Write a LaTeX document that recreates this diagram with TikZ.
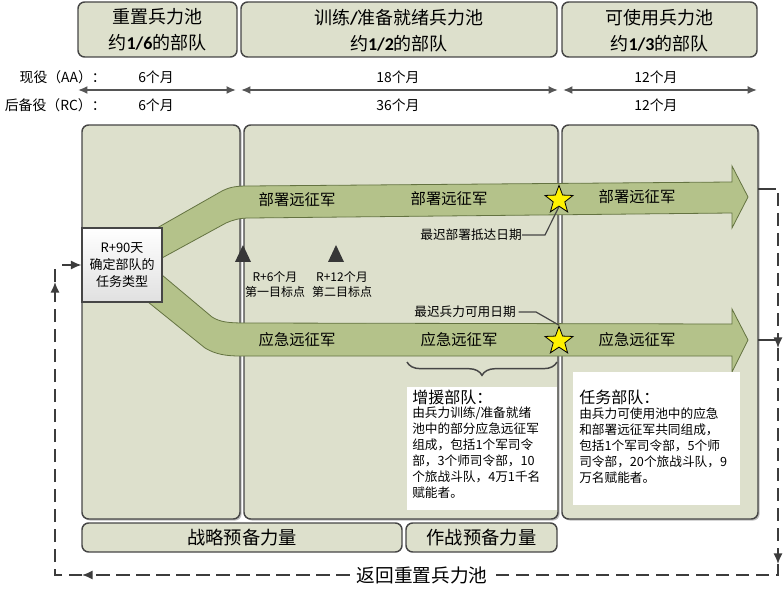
\documentclass[tikz,border=0pt]{standalone}
\usepackage{fontspec}
\setmainfont{Noto Sans CJK SC}
\newfontfamily\carl{Carlito}
\usetikzlibrary{shapes.geometric,arrows.meta,decorations.pathreplacing,fit,shadows}
\definecolor{panelc}{RGB}{221,224,204}
\definecolor{bordc}{RGB}{70,70,70}
\definecolor{bandc}{RGB}{180,194,138}
\definecolor{bandedge}{RGB}{100,115,65}
\definecolor{arrowc}{RGB}{85,85,85}
\definecolor{retc}{RGB}{60,60,60}
\definecolor{markc}{RGB}{55,55,55}
\begin{document}
\begin{tikzpicture}[x=0.75pt,y=-0.75pt,
  box/.style={draw=bordc, fill=panelc, line width=1.1pt, rounded corners=5pt, inner sep=0pt},
  panel/.style={box, drop shadow={shadow xshift=1.2pt, shadow yshift=-1.2pt, fill=black, opacity=0.25}},
  hdrtxt/.style={align=center, inner sep=0pt, font=\fontsize{13.5}{19.5}\selectfont},
  boxtxt/.style={inner sep=0pt, font=\fontsize{13.7}{16}\selectfont},
  rowtxt/.style={font=\fontsize{10.4}{12}\selectfont, inner sep=0pt},
  span/.style={draw=arrowc, line width=1.3pt, {Latex[length=7pt,width=6pt]}-{Latex[length=7pt,width=6pt]}},
  band/.style={fill=bandc, draw=bandedge, line width=0.6pt},
  bandtxt/.style={font=\fontsize{11.5}{13}\selectfont},
  small/.style={font=\fontsize{9}{11.25}\selectfont, align=center, inner sep=0pt},
  note/.style={font=\fontsize{9.5}{12}\selectfont, inner sep=0pt},
  head/.style={font=\fontsize{12}{14}\selectfont, inner sep=0pt},
  ret/.style={draw=retc, line width=1.4pt, dash pattern=on 10pt off 5pt},
  stub/.style={draw=retc, line width=1.2pt},
  tip/.style={-{Latex[length=8pt,width=7pt]}},
  starmark/.style={star, star points=5, star point ratio=2.4, fill=yellow, draw=black, line width=0.6pt, minimum size=22pt, inner sep=0pt}
]
\useasboundingbox (0,0) rectangle (784,598);

% header boxes
\node[box, fit={(78,2) (237,57)}] (h1) {};
\node[box, fit={(241,2) (557,57)}] (h2) {};
\node[box, fit={(562,2) (757,57)}] (h3) {};
\node[hdrtxt] (h1t) at ([yshift=-0.5pt]h1.center) {重置兵力池\\约{\carl\bfseries 1/6}的部队};
\node[hdrtxt] (h2t) at ([yshift=-0.5pt]h2.center) {训练{\carl\bfseries /}准备就绪兵力池\\约{\carl\bfseries 1/2}的部队};
\node[hdrtxt] (h3t) at ([yshift=-0.5pt]h3.center) {可使用兵力池\\约{\carl\bfseries 1/3}的部队};

% duration rows
\node[rowtxt, anchor=east] (aa) at (106,77) {现役（AA）：};
\node[rowtxt, anchor=east] (rc) at (106,105) {后备役（RC）：};
\node[rowtxt] (aa1) at (156,77) {6个月};
\node[rowtxt] (aa2) at (398,77) {18个月};
\node[rowtxt] (aa3) at (656,77) {12个月};
\node[rowtxt] (rc1) at (156,105) {6个月};
\node[rowtxt] (rc2) at (398,105) {36个月};
\node[rowtxt] (rc3) at (656,105) {12个月};
\coordinate (s1a) at (78,90); \coordinate (s1b) at (236,90);
\coordinate (s2a) at (241,90); \coordinate (s2b) at (558,90);
\coordinate (s3a) at (563,90); \coordinate (s3b) at (757,90);
\draw[span] (s1a) -- (s1b);
\draw[span] (s2a) -- (s2b);
\draw[span] (s3a) -- (s3b);

% panels
\node[panel, fit={(82,125) (240,519)}] (p1) {};
\node[panel, fit={(244,125) (558,519)}] (p2) {};
\node[panel, fit={(562,125) (758,519)}] (p3) {};

% bottom boxes
\node[box, fit={(82,523) (402,552)}] (sr) {};
\node[box, fit={(406,523) (557,552)}] (or) {};
\node[boxtxt] (srt) at (sr.center) {战略预备力量};
\node[boxtxt] (ort) at (or.center) {作战预备力量};

% bands
\draw[band] (150,232) -- (157,228) -- (222,191) .. controls (230,187) and (236,186) .. (248,186)
  -- (732,182) -- (732,166) -- (748,197) -- (732,228) -- (732,213)
  -- (250,218) .. controls (239,218) and (233,220) .. (226,223) -- (162,258) -- (150,262) -- cycle;
\draw[band] (150,270) -- (162,275) -- (212,317) .. controls (220,322) and (228,323) .. (245,323)
  -- (732,324) -- (732,309) -- (748,340) -- (732,372) -- (732,356)
  -- (240,356) .. controls (225,356) and (215,354) .. (205,348) -- (148,302) -- (140,300) -- cycle;

% decision box
\node[draw=bordc, line width=0.8pt, top color=white, bottom color=black!12, fit={(82,228) (162,302)}, inner sep=0pt] (r90) {};
\node[align=center, inner sep=0pt, font=\fontsize{9.75}{12.75}\selectfont] (r90t) at (r90.center) {R+90天\\确定部队的\\任务类型};

% band labels
\node[bandtxt] (d1) at (297,200) {部署远征军};
\node[bandtxt] (d2) at (449,199) {部署远征军};
\node[bandtxt] (d3) at (637,197) {部署远征军};
\node[bandtxt] (e1) at (297,340) {应急远征军};
\node[bandtxt] (e2) at (459,340) {应急远征军};
\node[bandtxt] (e3) at (637,340) {应急远征军};

% milestones
\fill[markc] (243,245) -- (251,262) -- (235,262) -- cycle;
\fill[markc] (336,245) -- (344,262) -- (328,262) -- cycle;
\node[small] (m1) at (275,284.5) {R+6个月\\第一目标点};
\node[small] (m2) at (342,284.5) {R+12个月\\第二目标点};

% stars and labels
\node[starmark] (st1) at (559,200) {};
\node[starmark] (st2) at (559,341) {};
\node[note, anchor=east] (l1) at (522,235) {最迟部署抵达日期};
\node[note, anchor=east] (l2) at (516,312) {最迟兵力可用日期};
\coordinate (k1) at (545,235);
\coordinate (k2) at (536,312);
\draw[bordc, line width=0.9pt] (l1.east) -- (k1) -- (st1.south);
\draw[bordc, line width=0.9pt] ([xshift=2pt]l2.east) -- (k2) -- (st2.north);

% brace
\draw[bordc, line width=1.1pt, decorate, decoration={brace, mirror, amplitude=10pt}] (407,362) -- (557,362);

% info boxes
\node[fill=white, fit={(407,387) (557,510)}, inner sep=0pt] (b1) {};
\node[head, anchor=west] (b1h) at (412,397) {增援部队：};
\node[note, anchor=north west, align=left] (b1b) at (412,407) {由兵力训练/准备就绪\\池中的部分应急远征军\\组成，包括1个军司令\\部，3个师司令部，10\\个旅战斗队，4万1千名\\赋能者。};
\node[fill=white, fit={(573,372) (740,505)}, inner sep=0pt] (b2) {};
\node[head, anchor=west] (b2h) at (579,397) {任务部队：};
\node[note, anchor=north west, align=left] (b2b) at (579,407) {由兵力可使用池中的应急\\和部署远征军共同组成，\\包括1个军司令部，5个师\\司令部，20个旅战斗队，9\\万名赋能者。};

% return loop
\node[fill=white, inner sep=5pt, font=\fontsize{14}{16}\selectfont] (rt) at (422,575) {返回重置兵力池};
\coordinate (o1) at (758,189); \coordinate (o1b) at (776,189);
\coordinate (o2) at (758,340);
\coordinate (c1) at (778,193);
\coordinate (c2a) at (778,348);
\coordinate (c2b) at (778,564);
\coordinate (c3) at (778,575);
\coordinate (c4) at (82,575);
\coordinate (c5) at (55,575);
\coordinate (c6) at (55,282);
\coordinate (c7) at (55,267);
\coordinate (c8) at (62,265);
\draw[stub] (o1) -- (o1b);
\draw[stub] (o2) -- (778,340);
\draw[ret, tip] (c1) -- (c2a);
\draw[ret, tip] (c2a) -- (c2b);
\draw[ret] (c2b) -- (c3) -- (rt.east);
\draw[ret, tip] (rt.west) -- (c4);
\draw[ret] (c4) -- (c5) -- (55,300);
\draw[ret, tip] (55,300) -- (c6);
\draw[ret] (c6) -- (c7);
\draw[stub, tip] (c8) -- (r90.west);
\end{tikzpicture}
\end{document}
